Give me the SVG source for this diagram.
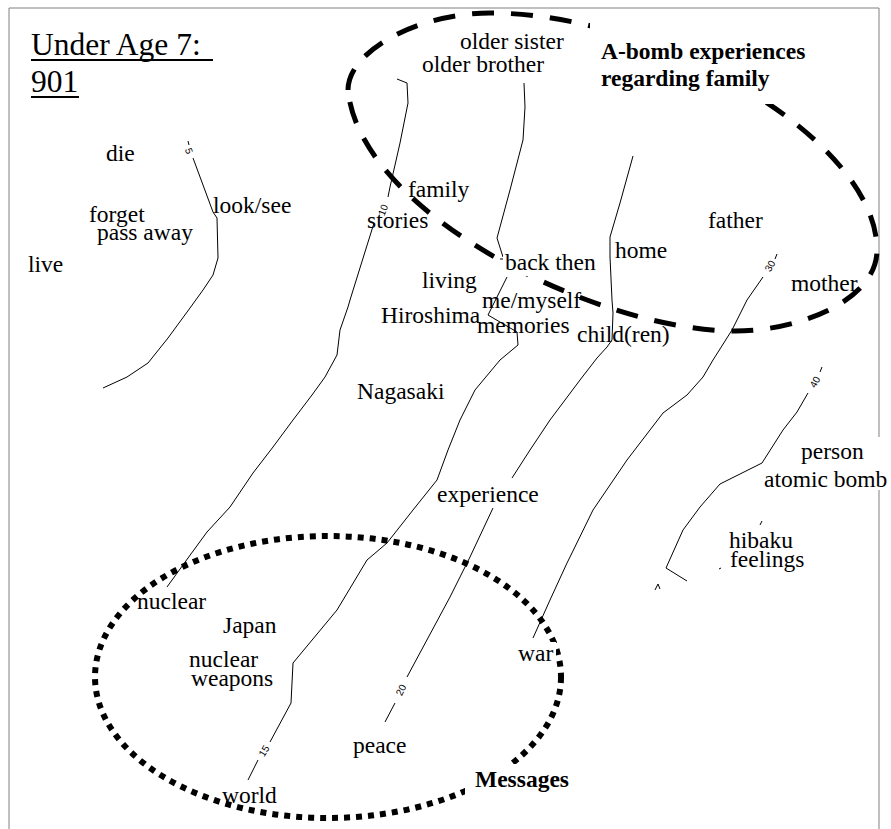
<svg xmlns="http://www.w3.org/2000/svg" width="891" height="829" viewBox="0 0 891 829">
  <style>
    .lbl { font-family: "Liberation Serif", "Times New Roman", serif; font-size: 23.5px; fill: #000; }
    .bold { font-family: "Liberation Serif", "Times New Roman", serif; font-size: 23.5px; font-weight: bold; fill: #000; }
    .title { font-family: "Liberation Serif", "Times New Roman", serif; font-size: 31.5px; fill: #000; }
    .lev { font-family: "Liberation Sans", Arial, sans-serif; font-size: 10px; fill: #000; text-anchor: middle; dominant-baseline: central; }
    .ctr { fill: none; stroke: #000; stroke-width: 1; stroke-linejoin: round; }
    .mask { fill: #fff; stroke: none; }
  </style>

  <rect width="891" height="829" fill="#fff"/>

  <!-- plot frame (right edge interrupted by the labels at the border) -->
  <path d="M9,829 V8 H879 V437 M879,490 V829" fill="none" stroke="#808080" stroke-width="1"/>

  <!-- title -->
  <g id="title">
    <text class="title" x="31" y="55">Under Age 7:</text>
    <text class="title" x="31" y="92">901</text>
    <line x1="31" y1="60" x2="213" y2="60" stroke="#000" stroke-width="2"/>
    <line x1="31" y1="97" x2="79" y2="97" stroke="#000" stroke-width="2"/>
  </g>

  <!-- contour lines with level labels -->
  <g id="contours">
    <g id="level-5">
      <polyline class="ctr" points="188,141 189,145"/>
      <text class="lev" transform="translate(189,151) rotate(70)">5</text>
      <polyline class="ctr" points="193,158 213,212 217,218 218,258 213,275 203,290 190,308 168,338 148,363 127,377 103,388"/>
    </g>
    <g id="level-10">
      <polyline class="ctr" points="397,79 407,83 408,103 400,143 390,187 388,197"/>
      <text class="lev" transform="translate(383,210) rotate(-68)">10</text>
      <polyline class="ctr" points="374,223 350,300 348,307 340,330 337,355 325,377 312,395 293,420 273,447 253,473 230,507 207,532 188,558 167,587"/>
    </g>
    <g id="level-15">
      <polyline class="ctr" points="524,83 525,107 523,140 510,190 497,238 503,257"/>
      <polyline class="ctr" points="500,259 503,259"/>
      <polyline class="ctr" points="507,277 488,315 517,332 518,345 500,360 475,390 460,420 448,450 437,480 413,510 387,543 367,560 337,610 293,663 291,703 270,742"/>
      <text class="lev" transform="translate(264,751) rotate(-58)">15</text>
      <polyline class="ctr" points="258,760 248,780"/>
    </g>
    <g id="level-20">
      <polyline class="ctr" points="633,156 620,203 610,237 610,257 612,300 613,313 612,340 607,347 597,358 580,380 550,420 530,450 512,478"/>
      <polyline class="ctr" points="493,508 470,557 460,577 450,597 407,677"/>
      <text class="lev" transform="translate(401,690) rotate(-65)">20</text>
      <polyline class="ctr" points="395,703 385,722"/>
    </g>
    <g id="level-30">
      <polyline class="ctr" points="777,254 775,259"/>
      <text class="lev" transform="translate(770,266) rotate(-60)">30</text>
      <polyline class="ctr" points="763,277 747,300 732,330 713,360 703,377 687,395 663,413 627,460 593,510 570,557 567,563 550,600 533,638"/>
    </g>
    <g id="level-40">
      <polyline class="ctr" points="822,367 820,372"/>
      <text class="lev" transform="translate(815,382) rotate(-61)">40</text>
      <polyline class="ctr" points="808,393 797,412 783,430 762,463 720,484 700,507 683,530 666,568 687,581"/>
      <polyline class="ctr" points="655,590 658,584 660,589"/>
      <polyline class="ctr" points="760,525 762,521"/>
      <polyline class="ctr" points="719,569 721,568"/>
    </g>
  </g>

  <!-- word labels -->
  <g id="words">
    <text id="w-die" class="lbl" x="106" y="161">die</text>
    <text id="w-looksee" class="lbl" x="213" y="213">look/see</text>
    <text id="w-forget" class="lbl" x="89" y="222">forget</text>
    <text id="w-passaway" class="lbl" x="97" y="240">pass away</text>
    <text id="w-live" class="lbl" x="28" y="272">live</text>
    <text id="w-stories" class="lbl" x="367" y="228">stories</text>
    <text id="w-family" class="lbl" x="408" y="197">family</text>
    <text id="w-living" class="lbl" x="422" y="288">living</text>
    <text id="w-hiroshima" class="lbl" x="381" y="323">Hiroshima</text>
    <text id="w-memyself" class="lbl" x="482" y="308">me/myself</text>
    <text id="w-memories" class="lbl" x="477" y="333">memories</text>
    <text id="w-children" class="lbl" x="577" y="342">child(ren)</text>
    <text id="w-home" class="lbl" x="615" y="258">home</text>
    <text id="w-father" class="lbl" x="708" y="228">father</text>
    <text id="w-mother" class="lbl" x="791" y="291">mother</text>
    <text id="w-oldersister" class="lbl" x="460" y="49">older sister</text>
    <text id="w-olderbrother" class="lbl" x="422" y="72">older brother</text>
    <text id="w-nagasaki" class="lbl" x="357" y="399">Nagasaki</text>
    <text id="w-experience" class="lbl" x="437" y="502">experience</text>
    <text id="w-person" class="lbl" x="801" y="459">person</text>
    <text id="w-atomicbomb" class="lbl" x="764" y="487">atomic bomb</text>
    <text id="w-hibaku" class="lbl" x="729" y="548">hibaku</text>
    <text id="w-feelings" class="lbl" x="730" y="567">feelings</text>
    <text id="w-nuclear" class="lbl" x="137" y="609">nuclear</text>
    <text id="w-japan" class="lbl" x="223" y="633">Japan</text>
    <text id="w-nuclear2" class="lbl" x="189" y="667">nuclear</text>
    <text id="w-weapons" class="lbl" x="191" y="686">weapons</text>
    <text id="w-world" class="lbl" x="222" y="803">world</text>
    <text id="w-peace" class="lbl" x="353" y="753">peace</text>
  </g>

  <!-- cluster outlines -->
  <g id="clusters">
    <path id="family-cluster" d="M348,90 C348,50 420,13 490,13 C660,13 877,140 877,250 C877,300 800,331 735,331 C600,331 360,215 348,90 Z"
          fill="none" stroke="#000" stroke-width="5" stroke-dasharray="22 17"/>
    <ellipse id="messages-cluster" cx="328" cy="677" rx="233" ry="141"
             fill="none" stroke="#000" stroke-width="6" stroke-dasharray="6 6"/>
  </g>

  <!-- labels drawn on an opaque ground over the outlines -->
  <g id="boxed-labels">
    <rect class="mask" x="590" y="18" width="225" height="86"/>
    <text class="bold" x="601" y="59">A-bomb experiences</text>
    <text class="bold" x="601" y="86">regarding family</text>

    <rect class="mask" x="503" y="254" width="97" height="22"/>
    <text id="w-backthen" class="lbl" x="505" y="270">back then</text>

    <rect class="mask" x="515" y="642" width="41" height="25"/>
    <text id="w-war" class="lbl" x="518" y="661">war</text>

    <rect class="mask" x="465" y="764" width="113" height="32"/>
    <text class="bold" x="475" y="787">Messages</text>
  </g>
</svg>
